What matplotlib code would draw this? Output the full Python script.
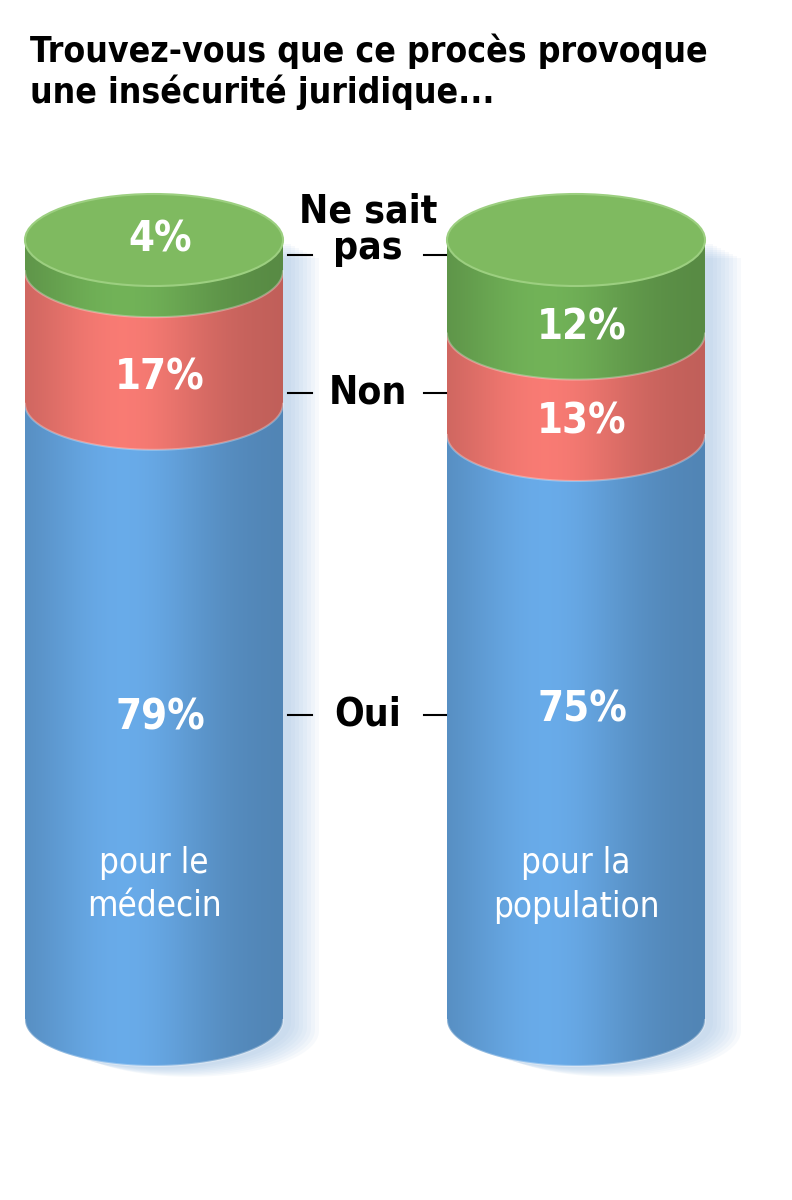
import matplotlib

matplotlib.use("Agg")
import matplotlib.pyplot as plt
import numpy as np
from matplotlib.patches import Ellipse, Polygon

# data
categories = ["Ne sait pas", "Non", "Oui"]
cat_labels = ["Ne sait\npas", "Non", "Oui"]
groups = ["pour le\nmédecin", "pour la\npopulation"]
values_medecin = [4, 17, 79]
values_population = [12, 13, 75]

colors_side = ["#6aa752", "#e8736c", "#62a0da"]
color_top = "#7fba60"

W, H = 792, 1200
TOP = 240          # centre of the top ellipse
SCALE = 7.8        # px per percent
RY = 46
FONT = dict(family="DejaVu Sans", stretch="condensed")


def shade_img(color):
    rgb = np.array(matplotlib.colors.to_rgb(color))
    t = np.linspace(0, 1, 300)
    f = 0.82 + 0.25 * np.exp(-((t - 0.38) / 0.35) ** 2)
    img = np.clip(rgb[None, :] * f[:, None], 0, 1)
    return img[None, :, :]


def side_patch(cx, rx, ya, yb):
    th = np.linspace(np.pi, 0, 60)
    xs = np.concatenate([[cx - rx], cx + rx * np.cos(th), [cx + rx]])
    ys = np.concatenate([[ya], yb + RY * np.sin(th), [ya]])
    return Polygon(np.column_stack([xs, ys]), closed=True, lw=0)


def cylinder(ax, cx, rx, values):
    bounds = TOP + SCALE * np.concatenate([[0], np.cumsum(values)])
    # shadow
    for k in range(8):
        off = 8 + 4 * k
        p = side_patch(cx + off, rx, bounds[0] + off * 0.5, bounds[-1] + off * 0.3)
        p.set_facecolor("#8fb8e0")
        p.set_alpha(0.07)
        ax.add_patch(p)
    for i in reversed(range(len(values))):
        p = side_patch(cx, rx, bounds[i], bounds[i + 1])
        p.set_facecolor("none")
        ax.add_patch(p)
        im = ax.imshow(shade_img(colors_side[i]), extent=(cx - rx, cx + rx, bounds[i + 1] + RY, bounds[i] - RY),
                       aspect="auto", zorder=2)
        im.set_clip_path(p)
        th = np.linspace(np.pi, 0, 60)
        ax.plot(cx + rx * np.cos(th), bounds[i + 1] + RY * np.sin(th), color="white", alpha=0.3, lw=1.5, zorder=3)
    top = Ellipse((cx, TOP), 2 * rx, 2 * RY, facecolor=color_top, edgecolor="#9ccf80", lw=1.5, zorder=4)
    ax.add_patch(top)
    return bounds


fig = plt.figure(figsize=(W / 100, H / 100), dpi=100)
ax = fig.add_axes([0, 0, 1, 1])
ax.set_xlim(0, W)
ax.set_ylim(H, 0)
ax.axis("off")

ax.text(30, 72, "Trouvez-vous que ce procès provoque\nune insécurité juridique...", fontsize=25.5,
        weight="bold", va="center", ha="left", linespacing=1.2, **FONT)

cyl = [(154, 129, values_medecin, [240, 378, 718], 885), (576, 129, values_population, [328, 422, 710], 885)]
for (cx, rx, vals, label_ys, gy), grp in zip(cyl, groups):
    cylinder(ax, cx, rx, vals)
    for v, y in zip(vals, label_ys):
        ax.text(cx + 6, y, f"{v}%", color="white", fontsize=30, weight="bold", ha="center", va="center",
                zorder=6, **FONT)
    ax.text(cx, gy, grp, color="white", fontsize=25, ha="center", va="center", linespacing=1.35, zorder=6, **FONT)

for lab, y in zip(cat_labels, [230, 393, 715]):
    ax.text(368, y, lab, fontsize=28, weight="bold", ha="center", va="center", linespacing=0.95, **FONT)
    ly = 255 if lab.startswith("Ne") else y
    ax.plot([288, 312], [ly, ly], color="black", lw=1.5)
    ax.plot([424, 446], [ly, ly], color="black", lw=1.5)

fig.savefig("out.png", dpi=100)
